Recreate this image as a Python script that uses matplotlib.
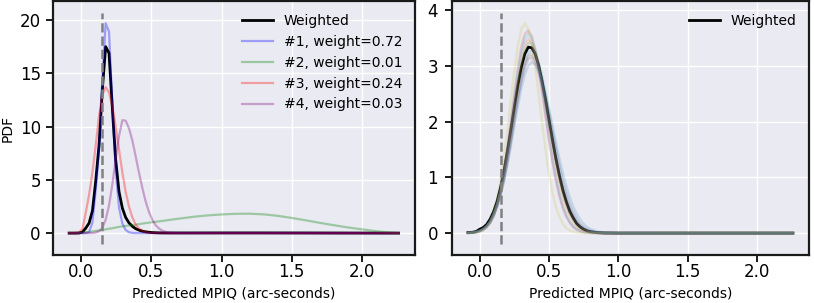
import numpy as np
import matplotlib
matplotlib.use("Agg")
import matplotlib.pyplot as plt

# ---- data ----
# left panel: sample grid (arc-seconds)
x_left = [-0.085, -0.061, -0.038, -0.014, 0.010, 0.033, 0.057, 0.081, 0.104, 0.128,
          0.152, 0.175, 0.199, 0.223, 0.246, 0.270, 0.294, 0.317, 0.341, 0.365,
          0.388, 0.412, 0.436, 0.459, 0.483, 0.507, 0.530, 0.554, 0.578, 0.601,
          0.625, 0.649, 0.70, 0.80, 0.90, 1.00, 1.10, 1.20, 1.30, 1.40,
          1.50, 1.60, 1.70, 1.80, 1.90, 2.00, 2.10, 2.20, 2.26]

weighted_left = [0, 0, 0, 0.01, 0.1, 0.46, 0.94, 2.09, 4.85, 8.26,
                 13.58, 17.5, 16.9, 11.64, 6.93, 3.89, 2.34, 1.48, 0.96, 0.64,
                 0.42, 0.28, 0.18, 0.12, 0.08, 0.05, 0.035, 0.024, 0.018, 0.016,
                 0.014, 0.013, 0.014, 0.015, 0.017, 0.018, 0.018, 0.018, 0.018, 0.016,
                 0.014, 0.012, 0.01, 0.007, 0.005, 0.004, 0.002, 0.001, 0]

model1 = [0, 0, 0, 0, 0, 0.01, 0.1, 1.0, 4.0, 7.8,
          14.5, 19.7, 18.9, 12.0, 6.0, 2.4, 0.9, 0.3, 0.08, 0.02,
          0, 0, 0, 0, 0, 0, 0, 0, 0, 0,
          0, 0, 0, 0, 0, 0, 0, 0, 0, 0,
          0, 0, 0, 0, 0, 0, 0, 0, 0]

model2 = [0.0, 0.0, 0.01, 0.02, 0.05, 0.08, 0.12, 0.16, 0.2, 0.25,
          0.3, 0.35, 0.41, 0.46, 0.52, 0.58, 0.63, 0.67, 0.71, 0.75,
          0.79, 0.84, 0.89, 0.94, 0.98, 1.02, 1.06, 1.10, 1.14, 1.18,
          1.23, 1.27, 1.36, 1.53, 1.66, 1.75, 1.81, 1.82, 1.76, 1.62,
          1.42, 1.2, 0.96, 0.74, 0.53, 0.35, 0.18, 0.05, 0.0]

model3 = [0, 0, 0.01, 0.05, 0.4, 1.9, 3.6, 5.7, 8.2, 11.0,
          13.0, 13.7, 13.2, 11.9, 10.0, 7.85, 5.7, 3.9, 2.5, 1.48,
          0.82, 0.43, 0.2, 0.09, 0.04, 0.015, 0.006, 0, 0, 0,
          0, 0, 0, 0, 0, 0, 0, 0, 0, 0,
          0, 0, 0, 0, 0, 0, 0, 0, 0]

model4 = [0, 0, 0, 0, 0, 0, 0, 0.01, 0.05, 0.18,
          0.5, 1.25, 2.6, 4.6, 6.9, 9.1, 10.6, 10.55, 9.85, 8.7,
          7.25, 5.7, 4.25, 3.0, 2.0, 1.26, 0.76, 0.44, 0.23, 0.12,
          0.06, 0.03, 0.005, 0, 0, 0, 0, 0, 0, 0,
          0, 0, 0, 0, 0, 0, 0, 0, 0]

models_left = [model1, model2, model3, model4]
labels_left = ["#1, weight=0.72", "#2, weight=0.01", "#3, weight=0.24", "#4, weight=0.03"]
colors_left = ["blue", "green", "red", "purple"]

# right panel
x_right = [-0.085, -0.05, -0.025, 0.0, 0.025, 0.05, 0.075, 0.1, 0.125, 0.15,
           0.175, 0.2, 0.225, 0.25, 0.275, 0.3, 0.325, 0.35, 0.375, 0.4,
           0.425, 0.45, 0.475, 0.5, 0.525, 0.55, 0.575, 0.6, 0.625, 0.65,
           0.675, 0.7, 0.725, 0.75, 0.775, 0.8, 0.85, 0.9, 1.0, 1.5,
           2.0, 2.26]

weighted_right = [0.01, 0.015, 0.03, 0.07, 0.1, 0.155, 0.25, 0.385, 0.57, 0.82,
                  1.12, 1.48, 1.87, 2.27, 2.66, 2.98, 3.22, 3.34, 3.33, 3.22,
                  3.01, 2.72, 2.39, 2.03, 1.67, 1.33, 1.03, 0.77, 0.56, 0.39,
                  0.27, 0.17, 0.11, 0.07, 0.04, 0.024, 0.007, 0.002, 0, 0,
                  0, 0]

r_blue = [0.004, 0.011, 0.022, 0.041, 0.073, 0.124, 0.20, 0.32, 0.48, 0.70,
          0.97, 1.30, 1.67, 2.07, 2.46, 2.80, 3.07, 3.24, 3.28, 3.21,
          3.05, 2.82, 2.52, 2.19, 1.85, 1.52, 1.21, 0.93, 0.70, 0.51,
          0.36, 0.25, 0.16, 0.105, 0.066, 0.04, 0.014, 0.004, 0, 0,
          0, 0]
r_orange = [0.003, 0.009, 0.019, 0.037, 0.068, 0.12, 0.205, 0.335, 0.51, 0.76,
            1.07, 1.45, 1.87, 2.31, 2.73, 3.09, 3.35, 3.46, 3.42, 3.26,
            3.01, 2.68, 2.30, 1.91, 1.53, 1.18, 0.88, 0.63, 0.44, 0.30,
            0.19, 0.12, 0.074, 0.043, 0.024, 0.013, 0.004, 0.001, 0, 0,
            0, 0]
r_green = [0.0035, 0.01, 0.02, 0.038, 0.069, 0.12, 0.20, 0.33, 0.50, 0.74,
           1.04, 1.41, 1.82, 2.25, 2.66, 3.02, 3.28, 3.41, 3.40, 3.27,
           3.05, 2.74, 2.38, 2.00, 1.62, 1.27, 0.96, 0.70, 0.50, 0.34,
           0.23, 0.14, 0.089, 0.052, 0.03, 0.017, 0.005, 0.001, 0, 0,
           0, 0]
r_red = [0.002, 0.006, 0.013, 0.027, 0.053, 0.10, 0.18, 0.30, 0.49, 0.76,
         1.10, 1.52, 2.01, 2.51, 2.97, 3.35, 3.58, 3.64, 3.54, 3.30,
         2.97, 2.56, 2.12, 1.69, 1.29, 0.95, 0.67, 0.45, 0.30, 0.19,
         0.11, 0.065, 0.036, 0.019, 0.01, 0.005, 0.001, 0, 0, 0,
         0, 0]
r_purple = [0.005, 0.013, 0.024, 0.044, 0.078, 0.13, 0.21, 0.33, 0.50, 0.72,
            0.99, 1.32, 1.68, 2.06, 2.43, 2.75, 2.99, 3.13, 3.14, 3.05,
            2.87, 2.62, 2.31, 1.98, 1.64, 1.32, 1.02, 0.77, 0.56, 0.40,
            0.27, 0.18, 0.116, 0.072, 0.043, 0.025, 0.008, 0.002, 0, 0,
            0, 0]
r_brown = [0.004, 0.012, 0.023, 0.043, 0.076, 0.128, 0.21, 0.33, 0.50, 0.72,
           1.0, 1.34, 1.71, 2.10, 2.48, 2.81, 3.05, 3.19, 3.21, 3.11,
           2.93, 2.67, 2.36, 2.02, 1.68, 1.35, 1.05, 0.79, 0.58, 0.41,
           0.28, 0.19, 0.12, 0.075, 0.045, 0.026, 0.008, 0.002, 0, 0,
           0, 0]
r_pink = [0.003, 0.008, 0.016, 0.032, 0.062, 0.11, 0.195, 0.32, 0.51, 0.77,
          1.10, 1.50, 1.95, 2.41, 2.84, 3.20, 3.43, 3.50, 3.42, 3.20,
          2.88, 2.49, 2.07, 1.65, 1.26, 0.93, 0.66, 0.45, 0.29, 0.18,
          0.11, 0.063, 0.035, 0.019, 0.01, 0.005, 0.001, 0, 0, 0,
          0, 0]
r_gray = [0.004, 0.011, 0.022, 0.041, 0.072, 0.12, 0.195, 0.31, 0.47, 0.68,
          0.94, 1.26, 1.62, 2.01, 2.39, 2.72, 2.98, 3.14, 3.18, 3.11,
          2.95, 2.73, 2.44, 2.12, 1.79, 1.47, 1.17, 0.90, 0.68, 0.49,
          0.35, 0.24, 0.155, 0.10, 0.064, 0.039, 0.014, 0.004, 0, 0,
          0, 0]
r_olive = [0.002, 0.006, 0.015, 0.031, 0.063, 0.12, 0.22, 0.38, 0.61, 0.94,
           1.36, 1.86, 2.40, 2.92, 3.37, 3.66, 3.77, 3.67, 3.40, 2.99,
           2.50, 1.98, 1.49, 1.06, 0.72, 0.46, 0.29, 0.17, 0.09, 0.049,
           0.024, 0.011, 0.005, 0.002, 0, 0, 0, 0, 0, 0,
           0, 0]
r_cyan = [0.003, 0.009, 0.018, 0.035, 0.066, 0.12, 0.205, 0.34, 0.53, 0.79,
          1.13, 1.54, 1.98, 2.45, 2.89, 3.26, 3.50, 3.58, 3.51, 3.30,
          2.99, 2.60, 2.17, 1.74, 1.34, 1.00, 0.71, 0.48, 0.32, 0.20,
          0.12, 0.071, 0.04, 0.021, 0.011, 0.005, 0.001, 0, 0, 0,
          0, 0]
r_blue2 = [0.006, 0.015, 0.027, 0.048, 0.082, 0.135, 0.21, 0.33, 0.49, 0.69,
           0.94, 1.24, 1.58, 1.94, 2.28, 2.60, 2.85, 3.01, 3.07, 3.03,
           2.91, 2.73, 2.49, 2.22, 1.92, 1.62, 1.34, 1.07, 0.84, 0.64,
           0.47, 0.34, 0.24, 0.165, 0.11, 0.072, 0.028, 0.01, 0.001, 0,
           0, 0]
models_right = [r_blue, r_orange, r_green, r_red, r_purple, r_brown,
                r_pink, r_gray, r_olive, r_cyan, r_blue2]
colors_right = ["#1f77b4", "#ff7f0e", "#2ca02c", "#d62728", "#9467bd", "#8c564b",
                "#e377c2", "#7f7f7f", "#bcbd22", "#17becf", "#1f77b4"]

true_mpiq = 0.15

plt.rcParams["font.family"] = "DejaVu Sans"
plt.rcParams["axes.facecolor"] = "#EAEAF2"
plt.rcParams["axes.edgecolor"] = "#1a1a1a"
plt.rcParams["axes.linewidth"] = 1.6
plt.rcParams["axes.axisbelow"] = True
plt.rcParams["grid.color"] = "white"
plt.rcParams["grid.linewidth"] = 1.0

fig = plt.figure(figsize=(8.14, 3.03), dpi=100)
ax1 = fig.add_axes([0.0647, 0.158, 0.4451, 0.838])
ax2 = fig.add_axes([0.5550, 0.158, 0.4390, 0.838])


def style(ax, ypad):
    ax.grid(True)
    ax.tick_params(axis="both", direction="out", length=5, width=1.4,
                   color="#1a1a1a", labelsize=12)
    ax.tick_params(axis="x", pad=0.5)
    ax.tick_params(axis="y", pad=ypad)
    ax.set_xlabel("Predicted MPIQ (arc-seconds)", fontsize=10, labelpad=4)
    ax.set_xticks([0.0, 0.5, 1.0, 1.5, 2.0])


# left panel
ax1.plot(x_left, weighted_left, color="black", lw=2, label="Weighted")
for ys, lab, c in zip(models_left, labels_left, colors_left):
    ax1.plot(x_left, ys, color=c, lw=1.6, alpha=0.33, label=lab)
top = max(max(m) for m in models_left)
ax1.vlines(true_mpiq, -0.05 * top, 1.05 * top, colors="gray", linestyles="--", lw=1.8)
style(ax1, 3.5)
ax1.set_ylabel("PDF", fontsize=10)
ax1.yaxis.set_label_coords(-0.106, 0.5)
ax1.set_yticks([0, 5, 10, 15, 20])
ax1.legend(loc="upper right", frameon=False, fontsize=10, handlelength=2.2,
           labelspacing=0.5)

# right panel
ax2.plot(x_right, weighted_right, color="black", lw=2, label="Weighted")
for ys, c in zip(models_right, colors_right):
    ax2.plot(x_right, ys, color=c, lw=1.8, alpha=0.18)
top = max(max(m) for m in models_right)
ax2.vlines(true_mpiq, -0.05 * top, 1.05 * top, colors="gray", linestyles="--", lw=1.8)
style(ax2, 5)
ax2.set_yticks([0, 1, 2, 3, 4])
ax2.legend(loc="upper right", frameon=False, fontsize=10, handlelength=2.2)

fig.savefig("out.png", dpi=100)
